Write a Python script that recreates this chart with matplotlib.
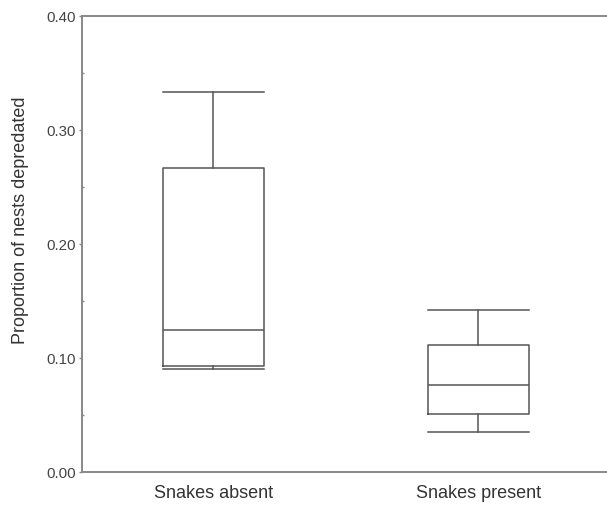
import matplotlib
matplotlib.use('Agg')
import matplotlib.pyplot as plt
from matplotlib.ticker import MultipleLocator

plt.rcParams['font.family'] = ['Liberation Sans', 'DejaVu Sans']

groups = ['Snakes absent', 'Snakes present']
whis_low = [0.090, 0.035]
q1 = [0.093, 0.051]
medians = [0.125, 0.076]
q3 = [0.267, 0.111]
whis_high = [0.333, 0.142]

stats = []
for i in range(len(groups)):
    stats.append({'label': groups[i], 'whislo': whis_low[i], 'q1': q1[i],
                  'med': medians[i], 'q3': q3[i], 'whishi': whis_high[i]})

fig = plt.figure(figsize=(6.07, 5.08), dpi=100)
ax = fig.add_axes([82/607, 36/508, 525/607, 456/508])

line_col = '#555555'
lw = 1.1
ax.bxp(stats, positions=[1, 2], widths=0.38, capwidths=0.38, showfliers=False,
       boxprops=dict(color=line_col, linewidth=lw),
       whiskerprops=dict(color=line_col, linewidth=lw),
       capprops=dict(color=line_col, linewidth=lw),
       medianprops=dict(color=line_col, linewidth=lw))

ax.set_xlim(0.504, 2.485)
ax.set_ylim(0, 0.40)
ax.set_yticks([0.0, 0.1, 0.2, 0.3, 0.4])
ax.set_yticklabels(['0.00', '0.10', '0.20', '0.30', '0.40'])
ax.yaxis.set_minor_locator(MultipleLocator(0.05))

for s in ['left', 'top', 'bottom']:
    ax.spines[s].set_color('#888888')
    ax.spines[s].set_linewidth(1.4)
ax.spines['right'].set_visible(False)

ax.tick_params(axis='y', which='major', direction='out', length=2.5, width=1,
               color='#888888', labelsize=10.8, labelcolor='#444444', pad=1.8)
ax.tick_params(axis='y', which='minor', direction='in', length=1.5, width=1,
               color='#888888')
ax.tick_params(axis='x', length=0, labelsize=13, labelcolor='#333333', pad=9)

ax.set_ylabel('Proportion of nests depredated', fontsize=13, color='#333333')
ax.yaxis.set_label_coords(-0.101, 0.553)

fig.savefig('out.png', dpi=100)
